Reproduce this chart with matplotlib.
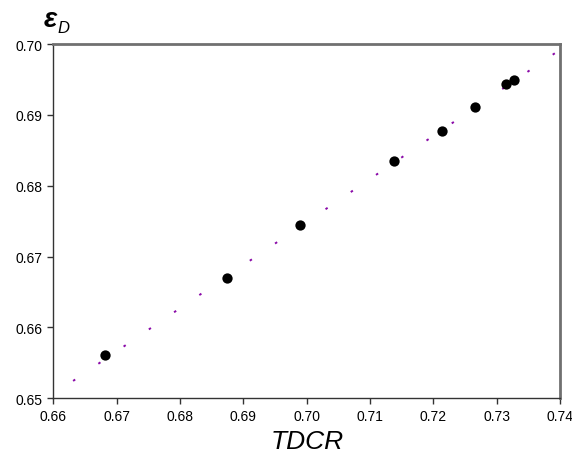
import numpy as np
import matplotlib
matplotlib.use("Agg")
import matplotlib.pyplot as plt

plt.rcParams["font.family"] = ["Liberation Sans", "DejaVu Sans"]

# measured points
tdcr = [0.6681, 0.6874, 0.6990, 0.7138, 0.7213, 0.7266, 0.7315, 0.7327]
eff = [0.6561, 0.6670, 0.6745, 0.6835, 0.6878, 0.6911, 0.6943, 0.6950]

# fitted line
fit_x = [0.6631, 0.7400]
fit_y = [0.65245, 0.6992]

fig = plt.figure(figsize=(5.72, 4.60), dpi=100)
fig.set_facecolor("white")
ax = fig.add_axes([0.0935, 0.132, 0.8855, 0.770])

ax.plot(fit_x, fit_y, color="#8a0aa8", lw=1.4, dashes=(1.3, 14.4),
        solid_capstyle="butt", dash_capstyle="butt", zorder=1)
ax.scatter(tdcr, eff, s=55, color="black", zorder=3, linewidths=0)

ax.set_xlim(0.66, 0.74)
ax.set_ylim(0.65, 0.70)
ax.set_xticks(np.arange(0.66, 0.7401, 0.01))
ax.set_yticks(np.arange(0.65, 0.7001, 0.01))
ax.xaxis.set_major_formatter(plt.FormatStrFormatter("%.2f"))
ax.yaxis.set_major_formatter(plt.FormatStrFormatter("%.2f"))
ax.tick_params(direction="out", length=4, width=1, labelsize=10, color="#333333", pad=4)

for side in ["left", "bottom"]:
    ax.spines[side].set_color("#333333")
    ax.spines[side].set_linewidth(1.0)
for side in ["top", "right"]:
    ax.spines[side].set_color("#707070")
    ax.spines[side].set_linewidth(2.0)

ax.set_xlabel("TDCR", fontsize=19, style="italic", labelpad=4)

fig.text(0.077, 0.956, "ε", fontsize=20, style="italic", fontweight="bold", ha="left", va="center")
fig.text(0.101, 0.938, "D", fontsize=12, style="italic", ha="left", va="center")

fig.savefig("out.png", dpi=100, facecolor="white")
plt.close(fig)
